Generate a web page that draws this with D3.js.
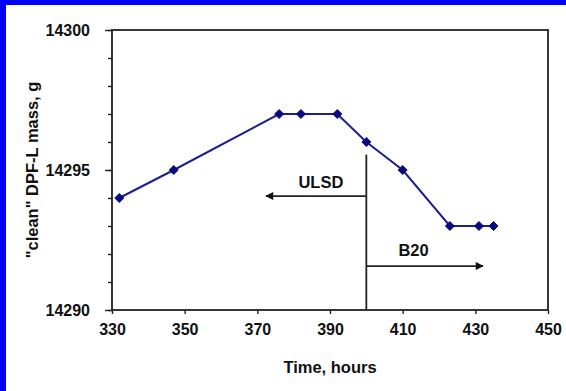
<!DOCTYPE html>
<html lang="en">
<head>
<meta charset="UTF-8">
<title>DPF-L mass vs time</title>
<style>
    body {
        margin: 0;
        background: #fff;
        font-family: Arial, "Liberation Sans", sans-serif;
    }
    #chart { display: block; }
    .tick text { font-weight: bold; font-size: 16px; fill: #111; }
    .tick line { stroke: #222; stroke-width: 1.4px; }
    .domain { display: none; }
    .title { font-weight: bold; font-size: 16.5px; fill: #111; }
    .note { font-weight: bold; font-size: 16.5px; fill: #111; }
</style>
</head>
<body>
<svg id="chart" width="566" height="391"></svg>
<script src="https://d3js.org/d3.v7.min.js"></script>
<script>
    // data
    const hours = [332, 347, 376, 382, 392, 400, 410, 423, 431, 435];
    const mass = [14294, 14295, 14297, 14297, 14297, 14296, 14295, 14293, 14293, 14293];

    const xTicks = [330, 350, 370, 390, 410, 430, 450];
    const yLabelTicks = [14290, 14295, 14300];

    // fuel switch annotation (data units)
    const switchHour = 400;
    const switchTop = 14295.55;
    const ulsd = {label: "ULSD", to: 372.4, y: 14294.07, tx: 387.5, ty: 14294.36};
    const b20 = {label: "B20", to: 432.1, y: 14291.57, tx: 413, ty: 14291.93};

    const svg = d3.select("#chart");
    const W = +svg.attr("width"), H = +svg.attr("height");
    const margin = {top: 30, right: 18, bottom: 81, left: 112};
    const w = W - margin.left - margin.right;
    const h = H - margin.top - margin.bottom;

    // blue frame on top and left edge
    svg.append("rect").attr("x", 0).attr("y", 0).attr("width", W).attr("height", 5).attr("fill", "#0000ff");
    svg.append("rect").attr("x", 0).attr("y", 0).attr("width", 6).attr("height", H).attr("fill", "#0000ff");

    const x = d3.scaleLinear().domain([330, 450]).range([0, w]);
    const y = d3.scaleLinear().domain([14290, 14300]).range([h, 0]);

    const g = svg.append("g").attr("transform", `translate(${margin.left},${margin.top})`);

    svg.append("defs").append("marker")
        .attr("id", "arrow")
        .attr("viewBox", "0 0 10 10")
        .attr("refX", 9).attr("refY", 5)
        .attr("markerWidth", 10).attr("markerHeight", 8)
        .attr("markerUnits", "userSpaceOnUse")
        .attr("orient", "auto")
        .append("path").attr("d", "M0,0L10,5L0,10Z").attr("fill", "#111");

    // axes
    g.append("g")
        .attr("transform", `translate(0,${h})`)
        .call(d3.axisBottom(x).tickValues(xTicks).tickSize(4).tickPadding(10).tickFormat(d3.format("d")));

    g.append("g")
        .call(d3.axisLeft(y).ticks(10).tickSize(4).tickFormat(""));
    g.append("g")
        .call(d3.axisLeft(y).tickValues(yLabelTicks).tickSize(7).tickPadding(15).tickFormat(d3.format("d")))
        .selectAll(".tick text").attr("dy", "0.35em");

    // plot box
    g.append("rect")
        .attr("width", w).attr("height", h)
        .attr("fill", "none").attr("stroke", "#222").attr("stroke-width", 1.8);

    // axis titles
    svg.append("text").attr("class", "title")
        .attr("x", margin.left + w / 2).attr("y", 373)
        .attr("text-anchor", "middle")
        .text("Time, hours");

    svg.append("text").attr("class", "title")
        .attr("transform", `translate(38,${margin.top + h / 2}) rotate(-90)`)
        .attr("text-anchor", "middle")
        .text("\"clean\" DPF-L mass, g");

    // fuel switch annotation
    g.append("line")
        .attr("x1", x(switchHour)).attr("x2", x(switchHour))
        .attr("y1", y(switchTop)).attr("y2", h)
        .attr("stroke", "#222").attr("stroke-width", 1.8);

    [ulsd, b20].forEach(a => {
        g.append("line")
            .attr("x1", x(switchHour)).attr("x2", x(a.to))
            .attr("y1", y(a.y)).attr("y2", y(a.y))
            .attr("stroke", "#222").attr("stroke-width", 1.8)
            .attr("marker-end", "url(#arrow)");
        g.append("text").attr("class", "note")
            .attr("x", x(a.tx)).attr("y", y(a.ty))
            .attr("text-anchor", "middle")
            .text(a.label);
    });

    // series
    const pts = hours.map((d, i) => ({h: d, m: mass[i]}));

    g.append("path")
        .datum(pts)
        .attr("fill", "none")
        .attr("stroke", "#1e1e90")
        .attr("stroke-width", 2)
        .attr("d", d3.line().x(d => x(d.h)).y(d => y(d.m)));

    g.selectAll(".pt")
        .data(pts)
        .enter().append("path")
        .attr("class", "pt")
        .attr("transform", d => `translate(${x(d.h)},${y(d.m)})`)
        .attr("d", "M0,-4.5L4.5,0L0,4.5L-4.5,0Z")
        .attr("fill", "#0a0a80")
        .attr("stroke", "#0a0a80")
        .attr("stroke-width", 1)
        .attr("stroke-linejoin", "round");
</script>
</body>
</html>
